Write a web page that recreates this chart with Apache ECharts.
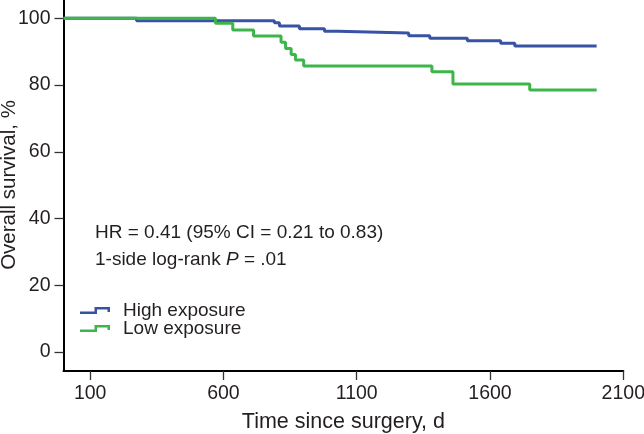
<!DOCTYPE html>
<html>
<head>
<meta charset="utf-8">
<script src="https://cdn.jsdelivr.net/npm/echarts@6/dist/echarts.min.js"></script>
<style>
html,body{margin:0;padding:0;background:#fff;}
#chart{width:644px;height:434px;}
</style>
</head>
<body>
<div id="chart"></div>
<script>
// Kaplan-Meier step data (days, survival %)
var highDays = [0, 274, 791, 810, 885, 979, 1029, 1295, 1374, 1515, 1640, 1693, 2000];
var highSurv = [100, 99.3, 98.7, 97.7, 96.9, 96.1, 95.6, 94.8, 94.0, 93.3, 92.5, 91.7, 91.7];
var lowDays = [0, 570, 635, 713, 816, 833, 854, 870, 901, 1382, 1461, 1749, 2000];
var lowSurv = [100, 98.5, 96.5, 94.7, 92.8, 91.0, 89.2, 87.5, 85.7, 84.0, 80.3, 78.5, 78.5];
var xTicks = [100, 600, 1100, 1600, 2100];
var yTicks = [0, 20, 40, 60, 80, 100];
var seriesNames = ['High exposure', 'Low exposure'];

function pairs(xs, ys) { return xs.map(function (x, i) { return [x, ys[i]]; }); }

var textColor = '#231f20';
var font = 'Liberation Sans, Arial, Helvetica, sans-serif';
var stepIcon = 'path://M0,4.5 L14.5,4.5 L14.5,0 L30,0 L30,5 L27.5,5 L27.5,2.5 L17,2.5 L17,7 L0,7 Z';

var chart = echarts.init(document.getElementById('chart'), null, {renderer: 'canvas'});
chart.setOption({
  animation: false,
  backgroundColor: '#fff',
  grid: {left: 63.5, right: 20.7, top: 0, bottom: 63, containLabel: false, outerBoundsMode: 'none'},
  xAxis: {
    type: 'value', min: 0, max: 2100,
    name: 'Time since surgery, d', nameLocation: 'middle', nameGap: 40,
    nameTextStyle: {fontSize: 21.5, color: textColor, fontFamily: font},
    axisLine: {onZero: false, lineStyle: {color: '#000', width: 2}},
    axisTick: {show: true, length: 9, customValues: xTicks, lineStyle: {color: '#333', width: 1.3}},
    axisLabel: {customValues: xTicks, margin: 13, fontSize: 19.5, color: textColor, fontFamily: font,
      formatter: function (v) { return String(v); }},
    splitLine: {show: false}
  },
  yAxis: {
    type: 'value', min: -5.7, max: 105.5,
    axisLine: {show: true, onZero: false, lineStyle: {color: '#000', width: 2}},
    axisTick: {show: true, length: 9, customValues: yTicks, lineStyle: {color: '#333', width: 1.3}},
    axisLabel: {customValues: yTicks, margin: 13, fontSize: 19.5, color: textColor, fontFamily: font,
      formatter: function (v) { return String(v); }},
    splitLine: {show: false}
  },
  legend: {
    orient: 'vertical', left: 75, top: 296,
    data: [{name: seriesNames[0], icon: stepIcon}, {name: seriesNames[1], icon: stepIcon}],
    itemWidth: 30, itemHeight: 7, itemGap: -1,
    textStyle: {fontSize: 19, color: textColor, fontFamily: font, padding: [0, 0, 0, 8]},
    itemStyle: {borderWidth: 0}
  },
  graphic: [
    {type: 'text', left: 95, top: 222.8, style: {text: 'HR = 0.41 (95% CI = 0.21 to 0.83)', fontSize: 19, fill: textColor, fontFamily: font}},
    {type: 'text', left: 95, top: 250.5, style: {text: '1-side log-rank {i|P} = .01', fontSize: 19, fill: textColor, fontFamily: font,
      rich: {i: {fontStyle: 'italic', fontSize: 19, fill: textColor, fontFamily: font}}}},
    {type: 'text', x: 9, y: 185, rotation: Math.PI / 2,
      style: {text: 'Overall survival, %', fontSize: 20.5, fill: textColor, fontFamily: font, align: 'center', verticalAlign: 'middle'}}
  ],
  series: [
    {name: seriesNames[0], type: 'line', step: 'end', data: pairs(highDays, highSurv), showSymbol: false, symbol: 'none', clip: false,
      color: '#3953a4', lineStyle: {color: '#3953a4', width: 3}},
    {name: seriesNames[1], type: 'line', step: 'end', data: pairs(lowDays, lowSurv), showSymbol: false, symbol: 'none', clip: false,
      color: '#3db54a', lineStyle: {color: '#3db54a', width: 3}}
  ]
});
</script>
</body>
</html>
